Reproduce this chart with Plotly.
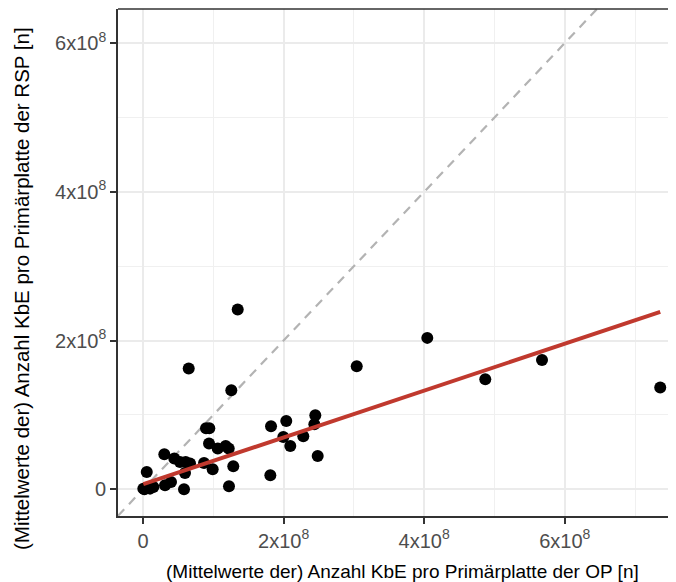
import numpy as np
import plotly.graph_objects as go

# KbE per primary plate: OP (x) vs RSP (y)
op_values = [1.347e8, 0.650e8, 1.256e8, 1.821e8, 2.038e8, 0.896e8, 0.943e8, 0.939e8,
             1.063e8, 1.176e8, 1.219e8, 0.303e8, 0.445e8, 0.526e8, 0.607e8, 0.669e8,
             0.597e8, 0.868e8, 0.991e8, 1.284e8, 1.223e8, 0.583e8, 0.053e8, 0.004e8,
             0.100e8, 0.147e8, 0.313e8, 0.398e8, 1.811e8, 1.996e8, 2.095e8, 2.280e8,
             2.451e8, 2.437e8, 2.485e8, 3.040e8, 4.044e8, 4.869e8, 5.676e8, 7.358e8,
             0.020e8, 0.060e8]
rsp_values = [2.418e8, 1.624e8, 1.332e8, 0.848e8, 0.919e8, 0.821e8, 0.821e8, 0.615e8,
              0.548e8, 0.583e8, 0.548e8, 0.471e8, 0.413e8, 0.367e8, 0.367e8, 0.346e8,
              0.219e8, 0.354e8, 0.269e8, 0.309e8, 0.040e8, 0.000e8, 0.233e8, 0.009e8,
              0.009e8, 0.030e8, 0.054e8, 0.098e8, 0.188e8, 0.704e8, 0.583e8, 0.713e8,
              0.996e8, 0.875e8, 0.448e8, 1.655e8, 2.036e8, 1.480e8, 1.740e8, 1.368e8,
              0.000e8, 0.020e8]

# linear fit
fit_intercept = 0.067e8
fit_slope = 0.315

x_ticks = [0, 2e8, 4e8, 6e8]
x_tick_labels = ["0", "2x10<sup>8</sup>", "4x10<sup>8</sup>", "6x10<sup>8</sup>"]
y_ticks = [0, 2e8, 4e8, 6e8]
y_tick_labels = ["0", "2x10<sup>8</sup>", "4x10<sup>8</sup>", "6x10<sup>8</sup>"]
minor_ticks = [1e8, 3e8, 5e8, 7e8]

x_range = [-0.356e8, 7.696e8]
y_range = [-0.359e8, 6.458e8]

x_title = "(Mittelwerte der) Anzahl KbE pro Primärplatte der OP [n]"
y_title = "(Mittelwerte der) Anzahl KbE pro Primärplatte der RSP [n]"

x = np.array(op_values)
y = np.array(rsp_values)
fit_x = np.array([x.min(), x.max()])
fit_y = fit_intercept + fit_slope * fit_x

FONT = "Liberation Sans, Arial, Helvetica, sans-serif"

W, H = 676, 582
L, R, T, B = 110, 0, 1, 74
pw, ph = W - L - R, H - T - B

fig = go.Figure()
# identity line
fig.add_trace(go.Scatter(x=[x_range[0], y_range[1]], y=[x_range[0], y_range[1]],
                         mode="lines", line=dict(color="#B3B3B3", width=2.2, dash="9px,7px"),
                         hoverinfo="skip", showlegend=False))
fig.add_trace(go.Scatter(x=x, y=y, mode="markers",
                         marker=dict(color="black", size=12), showlegend=False))
fig.add_trace(go.Scatter(x=fit_x, y=fit_y, mode="lines",
                         line=dict(color="#C0392E", width=4), showlegend=False))

axis_common = dict(
    tickmode="array", showgrid=True, gridcolor="#EBEBEB", gridwidth=1.5,
    zeroline=False, showline=True, linecolor="#333333", linewidth=1.6,
    ticks="outside", ticklen=6, tickwidth=1.5, tickcolor="#333333",
    tickfont=dict(family=FONT, size=20, color="#4D4D4D"),
    minor=dict(tickmode="array", tickvals=minor_ticks, showgrid=True,
               gridcolor="#F0F0F0", gridwidth=1, ticks=""),
)

fig.update_layout(
    width=W, height=H,
    margin=dict(l=L, r=R, t=T, b=B),
    paper_bgcolor="white", plot_bgcolor="white",
    xaxis=dict(range=x_range, tickvals=x_ticks, ticktext=x_tick_labels, **axis_common),
    yaxis=dict(range=y_range, tickvals=y_ticks, ticktext=y_tick_labels, **axis_common),
    showlegend=False,
    shapes=[dict(type="line", xref="paper", yref="paper", x0=0, x1=1, y0=1, y1=1,
                 line=dict(color="#333333", width=1.6))],
    annotations=[
        dict(text=x_title, xref="paper", yref="paper", x=(394 - L) / pw, y=-(563 - (T + ph)) / ph,
             xanchor="center", yanchor="middle", showarrow=False,
             font=dict(family=FONT, size=19, color="black")),
        dict(text=y_title, xref="paper", yref="paper", x=(14 - L) / pw, y=((T + ph) - 281) / ph,
             xanchor="center", yanchor="middle", showarrow=False, textangle=-90,
             font=dict(family=FONT, size=20.5, color="black")),
    ],
)

fig.write_html("out.html")
